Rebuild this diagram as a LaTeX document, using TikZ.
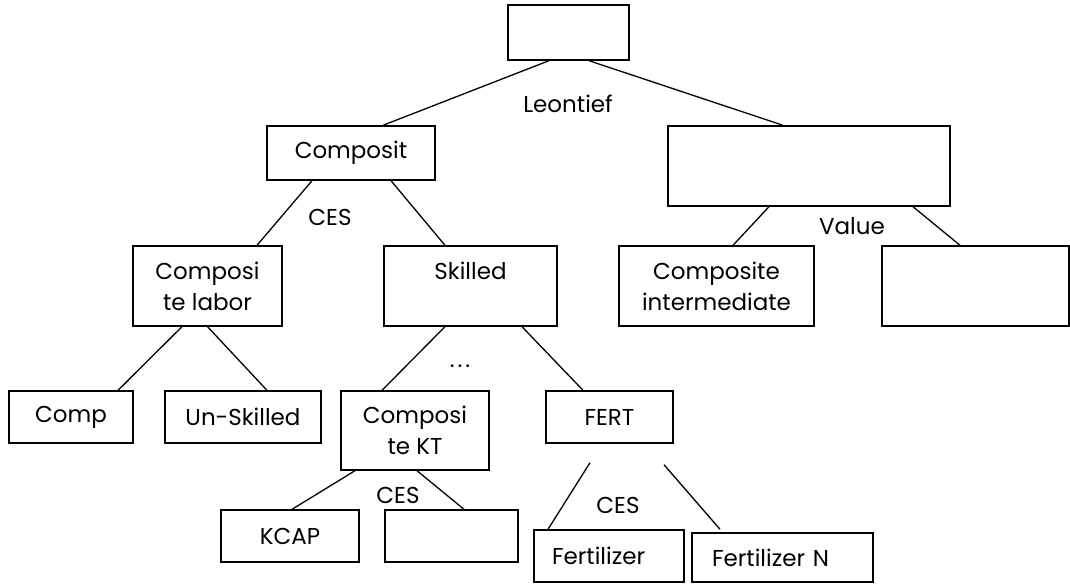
\documentclass[tikz,border=0pt]{standalone}
\usepackage{fontspec}
\setmainfont{Poppins}
\usepackage{tikz}
\usetikzlibrary{calc}

\begin{document}
\begin{tikzpicture}[x=1pt,y=-1pt,
  every node/.style={font=\fontsize{23}{31}\selectfont},
  box/.style={draw, line width=1.4pt, inner sep=0pt, align=center},
  lbl/.style={inner sep=0pt},
  link/.style={line width=1.3pt}]
  \useasboundingbox (0,0) rectangle (1070,586);
  % boxes
  \node[box, minimum width=121pt, minimum height=55pt] (top) at (568.5,32.5) {};
  \node[box, minimum width=168pt, minimum height=54pt] (comp) at (351,153) {Composit};
  \node[box, minimum width=282pt, minimum height=80pt] (va) at (809,166) {};
  \node[box, minimum width=149pt, minimum height=80pt] (lab) at (207.5,286) {Composi\\te labor};
  \node[box, minimum width=173pt, minimum height=80pt] (skl) at (470.5,286) {Skilled\\\mbox{}};
  \node[box, minimum width=195pt, minimum height=80pt] (inter) at (716.5,286) {Composite\\intermediate};
  \node[box, minimum width=187pt, minimum height=80pt] (vr) at (975.5,286) {};
  \node[box, minimum width=124pt, minimum height=52pt] (cmp) at (71,417) {Comp};
  \node[box, minimum width=156pt, minimum height=52pt] (uns) at (243,417) {Un-Skilled};
  \node[box, minimum width=148pt, minimum height=79pt] (kt) at (415,430.5) {Composi\\te KT};
  \node[box, minimum width=127pt, minimum height=52pt] (fert) at (609.5,417) {FERT};
  \node[box, minimum width=138pt, minimum height=52pt] (kcap) at (290,536) {KCAP};
  \node[box, minimum width=133pt, minimum height=52pt] (ktr) at (451.5,536) {};
  \node[box, align=left, inner xsep=18pt, text width=114pt, minimum height=52pt] (fz) at (609,556) {Fertilizer};
  \node[box, align=left, inner xsep=20pt, text width=141pt, minimum height=49pt] (fzn) at (782.5,557.5) {Fertilizer N};
  % labels
  \node[lbl] (leon) at (568,104) {Leontief};
  \node[lbl] (ces1) at (330,217) {CES};
  \node[lbl] (val) at (852,226) {Value};
  \node[lbl] (dots) at (460,366) {.\kern3pt.\kern3pt.};
  \node[lbl] (ces2) at (398,495) {CES};
  \node[lbl] (ces3) at (618,505) {CES};
  % links
  \draw[link] ([xshift=-19.5pt]top.south) -- ([xshift=32pt]comp.north);
  \draw[link] ([xshift=20.5pt]top.south) -- ([xshift=-26pt]va.north);
  \draw[link] ([xshift=-39pt]comp.south) -- ([xshift=49.5pt]lab.north);
  \draw[link] ([xshift=40pt]comp.south) -- ([xshift=-25.5pt]skl.north);
  \draw[link] ([xshift=-40pt]va.south) -- ([xshift=16.5pt]inter.north);
  \draw[link] ([xshift=104pt]va.south) -- ([xshift=-15.5pt]vr.north);
  \draw[link] ([xshift=-25.5pt]lab.south) -- ([xshift=47pt]cmp.north);
  \draw[link] (lab.south) -- ([xshift=24pt]uns.north);
  \draw[link] ([xshift=-25.5pt]skl.south) -- ([xshift=-33pt]kt.north);
  \draw[link] ([xshift=51.5pt]skl.south) -- ([xshift=-26.5pt]fert.north);
  \draw[link] ([xshift=-60pt]kt.south) -- ([xshift=2pt]kcap.north);
  \draw[link] ([xshift=2pt]kt.south) -- ([xshift=12.5pt]ktr.north);
  \draw[link] ([xshift=-19.5pt,yshift=-19pt]fert.south) -- ([xshift=-61pt]fz.north);
  \draw[link] ([xshift=54.5pt,yshift=-21pt]fert.south) -- ([xshift=-62.5pt,yshift=3pt]fzn.north);
\end{tikzpicture}
\end{document}
